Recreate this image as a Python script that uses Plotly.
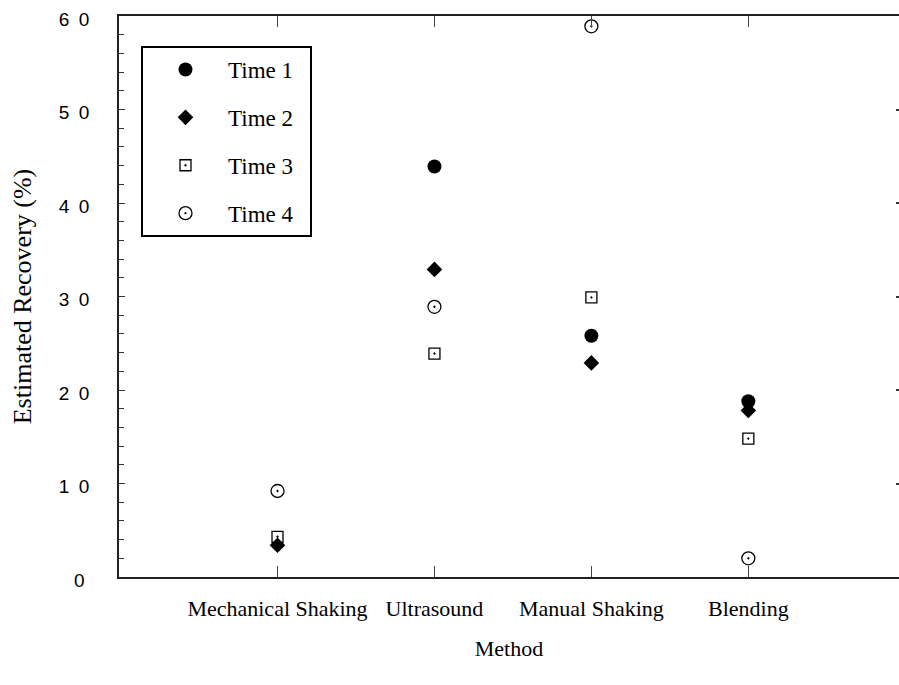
import plotly.graph_objects as go

categories = ["Mechanical Shaking", "Ultrasound", "Manual Shaking", "Blending"]
time1 = [None, 43.9, 25.8, 18.8]
time2 = [3.4, 32.9, 22.9, 17.8]
time3 = [4.3, 23.9, 29.9, 14.8]
time4 = [9.2, 28.9, 58.9, 2.0]
ytick_vals = [0, 10, 20, 30, 40, 50, 60]
ytick_text = ["0\u2005", "1\u20020", "2\u20020", "3\u20020", "4\u20020", "5\u20020", "6\u20020"]
legend_names = ["Time 1", "Time 2", "Time 3", "Time 4"]

series = [
    (time1, dict(symbol="circle", size=14, color="black", line=dict(width=0))),
    (time2, dict(symbol="diamond", size=12, color="black", line=dict(width=0))),
    (time3, dict(symbol="square-open-dot", size=11, color="black", line=dict(width=1.3))),
    (time4, dict(symbol="circle-open-dot", size=13, color="black", line=dict(width=1.3))),
]

fig = go.Figure()
for i, ((vals, mk), name) in enumerate(zip(series, legend_names)):
    fig.add_trace(go.Scatter(x=categories, y=vals, mode="markers", name=name + "\u2002",
                             marker=mk, legendgroup=f"g{i}"))
# right-side ticks
fig.add_trace(go.Scatter(x=[categories[0]], y=[None], yaxis="y2", showlegend=False,
                         hoverinfo="skip", mode="markers"))

serif = "Liberation Serif"
sans = "Liberation Sans"

fig.update_layout(
    width=899, height=685,
    margin=dict(l=119, r=0, t=16, b=108),
    paper_bgcolor="white", plot_bgcolor="white",
    showlegend=True,
    legend=dict(x=0.0282, y=0.9465, xanchor="left", yanchor="top",
                bordercolor="black", borderwidth=2, bgcolor="white",
                font=dict(family=serif, size=23, color="black"),
                tracegroupgap=15, traceorder="grouped", itemwidth=75),
    xaxis=dict(type="category", categoryorder="array", categoryarray=categories,
               range=[-1.01, 3.96], showgrid=False, zeroline=False,
               showline=True, linecolor="#222", linewidth=1.5, mirror="ticks",
               ticks="inside", ticklen=11, tickcolor="#444", tickwidth=1,
               ticklabelstandoff=11,
               tickfont=dict(family=serif, size=22, color="black"),
               title=dict(text="Method", font=dict(family=serif, size=22, color="black"),
                          standoff=20)),
    yaxis=dict(range=[0, 60], showgrid=False, zeroline=False,
               showline=True, linecolor="#222", linewidth=1.5,
               tickvals=ytick_vals, ticktext=ytick_text,
               ticks="inside", ticklen=6, tickcolor="#333", tickwidth=1,
               minor=dict(dtick=2, ticks="inside", ticklen=5, tickcolor="#333", tickwidth=1),
               ticklabelstandoff=24, ticklabelshift=3,
               tickfont=dict(family=sans, size=19, color="black"),
               title=dict(text="Estimated Recovery (%)",
                          font=dict(family=serif, size=26, color="black"), standoff=20)),
    yaxis2=dict(range=[0, 60], overlaying="y", side="right", showgrid=False,
                zeroline=False, showline=False, tickvals=ytick_vals,
                ticks="inside", ticklen=3, tickcolor="#333", tickwidth=2,
                showticklabels=False),
)

fig.write_html("out.html")
